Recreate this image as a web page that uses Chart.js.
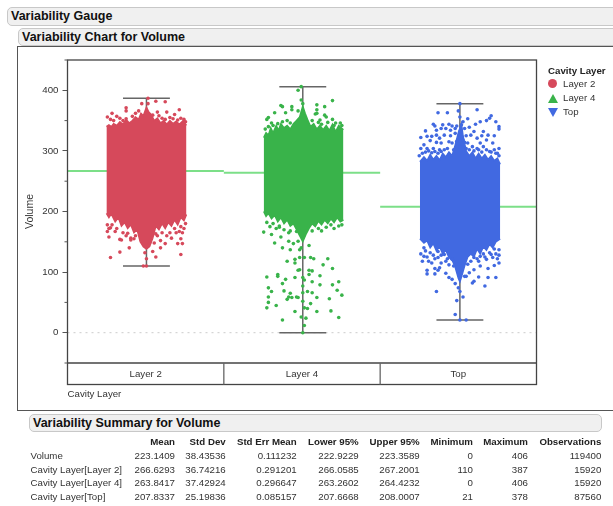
<!DOCTYPE html>
<html>
<head>
<meta charset="utf-8">
<title>Variability Chart for Volume</title>
<script src="https://cdn.jsdelivr.net/npm/chart.js@4"></script>
<style>
  html, body { margin: 0; padding: 0; background: #fff; overflow: hidden; }
  body { width: 613px; height: 506px; position: relative; font-family: "Liberation Sans", Arial, sans-serif; color: #333; }
  .bar { position: absolute; box-sizing: border-box; background: #f0f0f0; border: 1px solid #c8c8c8; border-radius: 5px; font-weight: bold; font-size: 12.5px; color: #111; padding-left: 3px; line-height: 16px; white-space: nowrap; }
  #gaugeBar { left: 7px; top: 7px; width: 640px; height: 19px; }
  #chartBar { left: 18px; top: 28px; width: 640px; height: 18px; }
  #summaryBar { left: 29px; top: 414px; width: 573px; height: 18px; }
  #frame { position: absolute; left: 17px; top: 46px; width: 640px; height: 365px; box-sizing: border-box; border: 1.5px solid #555; }
  canvas { position: absolute; left: 0; top: 0; }
  #legend { position: absolute; left: 548px; top: 64px; font-size: 9.7px; }
  #legend .title { font-weight: bold; color: #222; height: 13px; line-height: 13px; }
  #legend .row { position: relative; height: 14px; line-height: 14px; padding-left: 15px; white-space: nowrap; }
  #legend .mark { position: absolute; left: 0; top: 2px; }
  #summary { position: absolute; left: 30.5px; top: 435px; border-collapse: collapse; table-layout: fixed; font-size: 9.7px; }
  #summary td, #summary th { padding: 0; height: 13.8px; line-height: 13.8px; text-align: right; white-space: nowrap; font-weight: normal; }
  #summary th { font-weight: bold; color: #222; }
  #summary td:first-child { text-align: left; }
</style>
</head>
<body>
<div class="bar" id="gaugeBar">Variability Gauge</div>
<div class="bar" id="chartBar">Variability Chart for Volume</div>
<div id="frame"></div>
<canvas id="gaugeChart" width="613" height="506"></canvas>
<div id="legend"></div>
<div class="bar" id="summaryBar">Variability Summary for Volume</div>
<table id="summary"></table>

<script>
const categories = ["Layer 2", "Layer 4", "Top"];
const colors = ["#d6495b", "#39b34a", "#4169e1"];
const centers = [0.505, 1.505, 2.51];
const means = [266.6293, 263.8417, 207.8337];
const minimums = [110, 0, 21];
const maximums = [387, 406, 378];

// the packed middle of each cloud is one filled outline, [jitter, volume]
const layer2Upper = [[-0.256, 340], [-0.24, 343], [-0.225, 340], [-0.21, 345], [-0.19, 342], [-0.17, 348], [-0.15, 344], [-0.13, 352], [-0.11, 346], [-0.09, 350], [-0.07, 356], [-0.05, 352], [-0.035, 362], [-0.02, 358], [0, 372], [0.015, 364], [0.03, 360], [0.05, 350], [0.07, 354], [0.09, 346], [0.11, 350], [0.13, 344], [0.15, 350], [0.17, 345], [0.19, 349], [0.21, 344], [0.235, 350], [0.256, 342]];
const layer2Lower = [[-0.256, 197], [-0.24, 190], [-0.225, 196], [-0.2, 183], [-0.18, 190], [-0.16, 176], [-0.14, 182], [-0.12, 172], [-0.1, 178], [-0.08, 165], [-0.06, 170], [-0.04, 150], [-0.02, 142], [0, 138], [0.02, 142], [0.04, 156], [0.06, 176], [0.08, 170], [0.1, 180], [0.12, 172], [0.14, 182], [0.16, 176], [0.18, 186], [0.2, 178], [0.22, 190], [0.24, 185], [0.256, 195]];
const layer4Upper = [[-0.25, 322], [-0.235, 330], [-0.22, 326], [-0.205, 338], [-0.19, 330], [-0.17, 342], [-0.155, 334], [-0.14, 345], [-0.12, 338], [-0.1, 342], [-0.08, 336], [-0.06, 345], [-0.04, 350], [-0.02, 356], [0, 374], [0.015, 362], [0.03, 352], [0.05, 340], [0.07, 345], [0.09, 336], [0.11, 342], [0.13, 335], [0.15, 342], [0.17, 334], [0.19, 344], [0.21, 332], [0.23, 342], [0.26, 335]];
const layer4Lower = [[-0.25, 200], [-0.235, 192], [-0.22, 197], [-0.2, 188], [-0.18, 194], [-0.16, 183], [-0.14, 190], [-0.12, 180], [-0.1, 186], [-0.08, 176], [-0.06, 180], [-0.04, 170], [-0.02, 160], [0, 150], [0.02, 162], [0.04, 172], [0.06, 180], [0.08, 175], [0.1, 184], [0.12, 178], [0.14, 186], [0.16, 180], [0.18, 188], [0.2, 182], [0.22, 190], [0.24, 183], [0.26, 186]];
const topUpper = [[-0.256, 282], [-0.23, 290], [-0.21, 284], [-0.19, 294], [-0.17, 286], [-0.15, 292], [-0.13, 285], [-0.11, 296], [-0.09, 290], [-0.07, 298], [-0.05, 292], [-0.03, 310], [-0.01, 330], [0.01, 345], [0.02, 325], [0.04, 300], [0.06, 292], [0.08, 298], [0.1, 288], [0.12, 296], [0.14, 288], [0.16, 294], [0.18, 286], [0.2, 292], [0.22, 284], [0.24, 288], [0.258, 278]];
const topLower = [[-0.256, 155], [-0.23, 148], [-0.21, 152], [-0.19, 140], [-0.17, 147], [-0.15, 135], [-0.13, 142], [-0.11, 130], [-0.09, 136], [-0.07, 124], [-0.05, 120], [-0.03, 108], [-0.01, 90], [0, 84], [0.01, 92], [0.03, 110], [0.05, 125], [0.07, 130], [0.09, 125], [0.11, 138], [0.13, 130], [0.15, 142], [0.17, 136], [0.19, 146], [0.21, 140], [0.23, 150], [0.258, 155]];

// the points that stand clear of the packed middle, [jitter, volume]
const layer2Points = [
  [0.01, 387], [-0.13, 371], [-0.13, 366], [-0.03, 378], [0.01, 378], [0.06, 382], [0.12, 381], [0.21, 368], [0.18, 360], [0.13, 364],
  [0.07, 364], [-0.22, 362], [-0.25, 356], [-0.19, 357], [-0.07, 362], [-0.05, 366], [0.12, 352], [0.17, 353], [0.24, 352], [-0.13, 353], [0.04, 359],
  [-0.23, 352], [-0.21, 350], [-0.17, 354], [-0.15, 350], [-0.09, 357], [0.08, 358], [0.1, 354], [0.15, 355], [0.2, 351], [0.22, 354], [0.25, 348],
  [-0.23, 124], [-0.17, 133], [-0.11, 140], [0, 110], [-0.02, 110], [0, 122], [-0.01, 132], [0.06, 125], [0.04, 134], [0.09, 140],
  [0.12, 147], [0.09, 152], [0.02, 148], [0.05, 148], [0.2, 147], [0.23, 147], [0.22, 129], [0.16, 156], [0.22, 155], [0.06, 163],
  [-0.17, 154], [-0.16, 153], [-0.1, 153], [-0.1, 156], [-0.24, 158], [-0.25, 167], [-0.23, 173], [-0.2, 167], [0.21, 167], [0.23, 165],
  [-0.25, 178], [-0.24, 172], [-0.22, 178], [-0.19, 172], [-0.15, 165], [-0.13, 160], [-0.12, 164], [-0.08, 155], [-0.07, 160], [0.07, 160],
  [0.1, 165], [0.13, 160], [0.15, 165], [0.18, 172], [0.19, 165], [0.22, 175], [0.24, 172], [0.25, 180]
];
const layer4Points = [
  [-0.03, 400], [-0.01, 406], [-0.01, 384], [0, 378], [-0.14, 375], [-0.13, 373], [-0.07, 373], [-0.07, 368], [-0.11, 363], [-0.18, 363],
  [-0.22, 355], [-0.23, 352], [-0.2, 346], [-0.13, 348], [-0.03, 366], [0, 365], [0.09, 376], [0.09, 368], [0.14, 373], [0.19, 383],
  [0.08, 361], [0.09, 362], [0.14, 359], [0.15, 356], [0.19, 352], [0.21, 346], [0.24, 346], [0.11, 351],
  [-0.24, 336], [-0.22, 340], [-0.19, 342], [-0.16, 345], [-0.1, 350], [-0.08, 346], [0.06, 350], [0.1, 347], [0.12, 344], [0.16, 347], [0.2, 342], [0.25, 342],
  [-0.25, 166], [-0.2, 162], [-0.18, 148], [-0.13, 140], [-0.1, 118], [-0.05, 121], [-0.05, 115], [-0.08, 137], [-0.02, 124], [0.01, 124],
  [0.05, 124], [0.07, 122], [0.16, 122], [0.13, 112], [0.19, 106], [-0.23, 92], [-0.16, 96], [-0.16, 93], [-0.11, 88], [-0.13, 81],
  [-0.22, 74], [-0.2, 68], [-0.22, 59], [-0.22, 50], [-0.23, 41], [-0.17, 45], [-0.12, 69], [-0.08, 65], [-0.09, 59], [-0.1, 55],
  [-0.07, 58], [-0.04, 59], [-0.03, 58], [-0.05, 35], [-0.13, 21], [-0.01, 26], [0.02, 24], [0.01, 12], [0, 0], [0.03, 40],
  [0.05, 48], [0.09, 58], [0.06, 66], [0.03, 68], [0.09, 35], [0.18, 36], [0.23, 25], [0.17, 56], [0.25, 62], [0.22, 70],
  [0.19, 79], [0.23, 84], [0.11, 79], [0.11, 94], [0.06, 84], [0.04, 96], [0.06, 102], [0.04, 103], [-0.02, 104], [-0.03, 103],
  [-0.05, 91], [0, 91], [0.01, 87], [0, 77], [0, 66], [0, 52], [0.01, 41], [-0.02, 137], [-0.01, 140], [0.04, 144],
  [-0.09, 151], [-0.06, 147], [-0.03, 151], [-0.14, 158], [-0.15, 174], [-0.09, 165], [-0.04, 167],
  [-0.23, 182], [-0.21, 175], [-0.19, 180], [-0.17, 172], [-0.15, 176], [-0.12, 170], [-0.08, 168], [0.06, 168], [0.1, 172], [0.12, 168], [0.15, 174], [0.18, 178], [0.2, 172], [0.23, 176], [0.25, 178]
];
const topPoints = [
  [0, 378], [-0.01, 366], [-0.14, 363], [-0.08, 363], [0.11, 368], [0, 356], [0.05, 353], [0.2, 358], [0.19, 354], [0.23, 348],
  [0.17, 350], [0.13, 348], [0.1, 344], [0.25, 340], [0.25, 336], [-0.17, 344], [-0.16, 341], [-0.11, 343], [-0.07, 344], [-0.05, 341],
  [-0.02, 341], [0.02, 348], [0.01, 343], [-0.22, 333], [-0.15, 334], [-0.12, 337], [-0.09, 337], [-0.06, 334], [-0.03, 337], [0.03, 337],
  [0.06, 339], [0.09, 332], [0.15, 332], [0.18, 326], [0.22, 325], [-0.25, 322], [-0.21, 324], [-0.18, 324], [-0.15, 326], [-0.13, 321],
  [-0.1, 326], [-0.06, 325], [-0.03, 329], [0, 332], [0.04, 325], [0.07, 326], [0.11, 321], [0.14, 325], [-0.23, 310], [-0.19, 317],
  [-0.15, 314], [-0.12, 313], [-0.07, 315], [-0.05, 313], [0.02, 318], [0.05, 313], [0.13, 313], [0.17, 318], [0.21, 313], [0.25, 304],
  [-0.25, 304], [-0.21, 304], [-0.17, 304], [-0.13, 302], [-0.1, 302], [-0.07, 293], [-0.04, 302], [0, 307], [0.04, 304], [0.08, 307],
  [0.12, 302], [0.15, 307], [0.19, 299], [0.23, 296],
  [-0.24, 296], [-0.22, 298], [-0.2, 300], [-0.18, 297], [-0.16, 299], [-0.14, 296], [-0.12, 299], [-0.08, 304], [-0.02, 316], [0.03, 314],
  [0.06, 302], [0.09, 300], [0.11, 304], [0.14, 298], [0.17, 302], [0.2, 298], [0.22, 302], [0.24, 296], [0.25, 292], [-0.26, 292],
  [-0.24, 118], [-0.21, 103], [-0.21, 97], [-0.16, 97], [-0.16, 106], [-0.14, 103], [-0.13, 107], [-0.09, 98], [-0.07, 91], [-0.05, 88],
  [-0.03, 81], [-0.01, 74], [0, 68], [-0.15, 68], [-0.02, 53], [0.02, 59], [-0.03, 30], [0.04, 21], [0, 21], [0.03, 93],
  [0.04, 93], [0.08, 82], [0.09, 85], [0.12, 92], [0.18, 91], [0.23, 91], [0.16, 77], [0.06, 99], [0.09, 104], [0.13, 110],
  [0.18, 106], [0.22, 111], [0.25, 115], [-0.23, 126], [-0.2, 118], [-0.18, 115], [-0.14, 124], [-0.12, 115], [-0.09, 118], [-0.04, 110],
  [-0.23, 140], [-0.19, 132], [-0.14, 134], [-0.1, 129], [-0.05, 121], [0.09, 124], [0.13, 126], [0.17, 121], [0.21, 124], [0.25, 137],
  [0.2, 129], [0.05, 113], [-0.25, 130], [-0.22, 135], [-0.21, 125], [-0.17, 128], [-0.16, 122], [-0.12, 128], [-0.08, 122], [-0.07, 112],
  [0.07, 118], [0.11, 122], [0.12, 118], [0.15, 130], [0.16, 125], [0.19, 132], [0.23, 130], [0.24, 122], [0.25, 128], [0.22, 138]
];

const upperEdges = [layer2Upper, layer4Upper, topUpper];
const lowerEdges = [layer2Lower, layer4Lower, topLower];
const loosePoints = [layer2Points, layer4Points, topPoints];
const capHalf = 0.15;

const summaryHeader = ["", "Mean", "Std Dev", "Std Err Mean", "Lower 95%", "Upper 95%", "Minimum", "Maximum", "Observations"];
const summaryRows = [
  ["Volume", "223.1409", "38.43536", "0.111232", "222.9229", "223.3589", "0", "406", "119400"],
  ["Cavity Layer[Layer 2]", "266.6293", "36.74216", "0.291201", "266.0585", "267.2001", "110", "387", "15920"],
  ["Cavity Layer[Layer 4]", "263.8417", "37.42924", "0.296647", "263.2602", "264.4232", "0", "406", "15920"],
  ["Cavity Layer[Top]", "207.8337", "25.19836", "0.085157", "207.6668", "208.0007", "21", "378", "87560"],
];
const summaryWidths = [100, 44.5, 50.7, 71, 62, 61, 53.3, 55, 73.3];

const toXY = (center) => ([jitter, volume]) => ({ x: center + jitter, y: volume });

const datasets = [];
categories.forEach((name, i) => {
  const c = centers[i];
  // loose points on top
  datasets.push({
    label: name,
    data: loosePoints[i].map(toXY(c)),
    showLine: false,
    pointRadius: 1.8,
    pointBackgroundColor: colors[i],
    pointBorderWidth: 0,
    order: 1,
  });
  datasets.push({
    label: name + " upper",
    data: upperEdges[i].map(toXY(c)),
    showLine: true,
    fill: "+1",
    borderColor: colors[i],
    backgroundColor: colors[i],
    borderWidth: 1.5,
    pointRadius: 0,
    order: 2,
  });
  datasets.push({
    label: name + " lower",
    data: lowerEdges[i].map(toXY(c)),
    showLine: true,
    borderColor: colors[i],
    borderWidth: 1.5,
    pointRadius: 0,
    order: 2,
  });
  // range whisker, min to max with a cap at both ends
  datasets.push({
    label: name + " range",
    data: [
      { x: c - capHalf, y: maximums[i] }, { x: c + capHalf, y: maximums[i] }, { x: c, y: maximums[i] },
      { x: c, y: minimums[i] }, { x: c - capHalf, y: minimums[i] }, { x: c + capHalf, y: minimums[i] },
    ],
    showLine: true,
    borderColor: "#666",
    borderWidth: 1.5,
    pointRadius: 0,
    order: 3,
  });
  // group mean across the whole band
  datasets.push({
    label: name + " mean",
    data: [{ x: i, y: means[i] }, { x: i + 1, y: means[i] }],
    showLine: true,
    borderColor: "#7cdf88",
    borderWidth: 2,
    pointRadius: 0,
    order: 4,
  });
});
datasets.push({
  label: "zero",
  data: [{ x: 0, y: 0 }, { x: 3, y: 0 }],
  showLine: true,
  borderColor: "#ccc",
  borderWidth: 1,
  borderDash: [2, 4],
  pointRadius: 0,
  order: 5,
});

// plot frame, category strip under the plot and the short minor ticks
const framePlugin = {
  id: "framePlugin",
  afterDraw(chart) {
    const { ctx, chartArea: a, scales } = chart;
    ctx.save();
    ctx.strokeStyle = "#444";
    ctx.lineWidth = 1.3;
    ctx.strokeRect(a.left, a.top, a.right - a.left, a.bottom - a.top + 21.5);
    ctx.beginPath();
    ctx.moveTo(a.left, a.bottom);
    ctx.lineTo(a.right, a.bottom);
    ctx.stroke();
    ctx.strokeStyle = "#666";
    [1, 2].forEach((v) => {
      const x = scales.x.getPixelForValue(v);
      ctx.beginPath();
      ctx.moveTo(x, a.bottom);
      ctx.lineTo(x, a.bottom + 21.5);
      ctx.stroke();
    });
    ctx.strokeStyle = "#555";
    ctx.lineWidth = 1;
    scales.y.ticks.forEach((t) => {
      if (t.value % 100 === 0) return;
      const y = scales.y.getPixelForValue(t.value);
      ctx.beginPath();
      ctx.moveTo(a.left - 3, y);
      ctx.lineTo(a.left, y);
      ctx.stroke();
    });
    ctx.restore();
  },
};

new Chart(document.getElementById("gaugeChart").getContext("2d"), {
  type: "scatter",
  data: { datasets },
  plugins: [framePlugin],
  options: {
    responsive: false,
    animation: false,
    layout: { padding: { left: 23.5, top: 60, right: 76.5, bottom: 106 } },
    plugins: { legend: { display: false }, tooltip: { enabled: false } },
    scales: {
      x: {
        type: "linear",
        min: 0,
        max: 3,
        afterFit: (scale) => { scale.height = 37; },
        afterBuildTicks: (scale) => { scale.ticks = categories.map((c, i) => ({ value: i + 0.5 })); },
        grid: { display: false, drawTicks: false },
        border: { display: false },
        ticks: {
          autoSkip: false,
          maxRotation: 0,
          padding: 6,
          color: "#333",
          font: { family: "Liberation Sans", size: 9.7 },
          callback: (v) => categories[Math.floor(v)],
        },
        title: {
          display: true,
          text: "Cavity Layer",
          align: "start",
          color: "#333",
          padding: 0,
          font: { family: "Liberation Sans", size: 9.7 },
        },
      },
      y: {
        min: -50,
        max: 450,
        afterFit: (scale) => { scale.width = 44; },
        border: { display: false },
        grid: {
          drawOnChartArea: false,
          tickLength: 5,
          tickColor: (c) => (c.tick && c.tick.value % 100 === 0 ? "#555" : "transparent"),
        },
        ticks: {
          stepSize: 50,
          padding: 4,
          color: "#333",
          font: { family: "Liberation Sans", size: 9.7 },
          callback: (v) => (v % 100 === 0 ? v : ""),
        },
        title: {
          display: true,
          text: "Volume",
          color: "#333",
          padding: 0,
          font: { family: "Liberation Sans", size: 10.5 },
        },
      },
    },
  },
});

// legend
const legendBox = document.getElementById("legend");
const legendTitle = document.createElement("div");
legendTitle.className = "title";
legendTitle.textContent = "Cavity Layer";
legendBox.appendChild(legendTitle);
const legendMarks = [
  (c) => `width:9px;height:9px;border-radius:50%;background:${c};`,
  (c) => `width:0;height:0;top:3px;border-left:5px solid transparent;border-right:5px solid transparent;border-bottom:9px solid ${c};`,
  (c) => `width:0;height:0;top:3px;border-left:5px solid transparent;border-right:5px solid transparent;border-top:9px solid ${c};`,
];
categories.forEach((name, i) => {
  const row = document.createElement("div");
  row.className = "row";
  row.innerHTML = `<span class="mark" style="${legendMarks[i](colors[i])}"></span>${name}`;
  legendBox.appendChild(row);
});

// summary table
const table = document.getElementById("summary");
table.style.width = summaryWidths.reduce((a, b) => a + b, 0) + "px";
const colgroup = document.createElement("colgroup");
summaryWidths.forEach((w) => {
  const col = document.createElement("col");
  col.style.width = w + "px";
  colgroup.appendChild(col);
});
table.appendChild(colgroup);
const head = table.insertRow();
summaryHeader.forEach((h) => {
  const th = document.createElement("th");
  th.textContent = h;
  head.appendChild(th);
});
summaryRows.forEach((r) => {
  const tr = table.insertRow();
  r.forEach((v) => { tr.insertCell().textContent = v; });
});
</script>
</body>
</html>
